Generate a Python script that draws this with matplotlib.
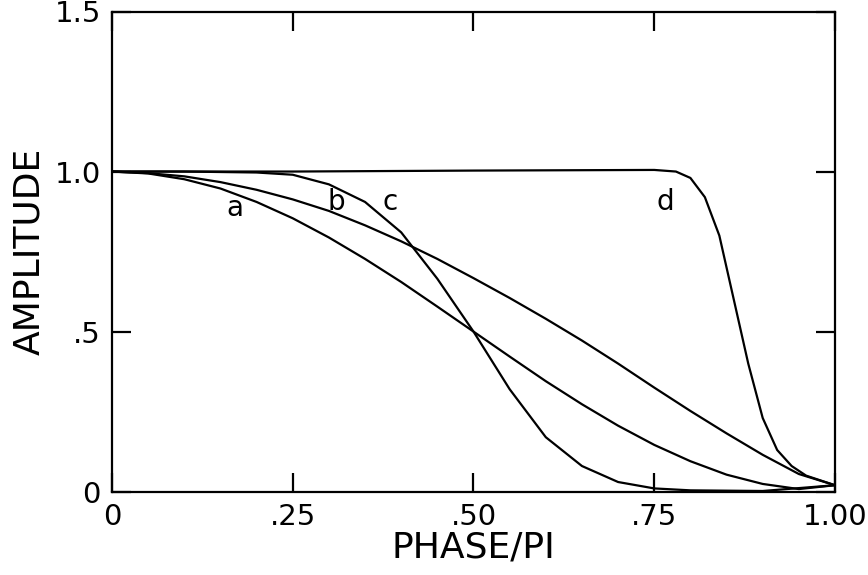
import matplotlib
matplotlib.use("Agg")
import matplotlib.pyplot as plt

xa = [0,.05,.1,.15,.2,.25,.3,.35,.4,.45,.5,.55,.6,.65,.7,.75,.8,.85,.9,.95,1]
a = [1,.994,.976,.947,.905,.854,.794,.727,.655,.578,.5,.422,.345,.273,.206,.146,.095,.053,.024,.008,.02]
b = [1,.995,.985,.967,.943,.913,.877,.832,.782,.727,.667,.605,.54,.472,.40,.325,.252,.182,.115,.055,.02]
xc = [0,.1,.2,.25,.3,.35,.4,.45,.5,.55,.6,.65,.7,.75,.8,.9,1]
c = [1,1,.997,.99,.96,.905,.81,.665,.5,.32,.17,.08,.03,.01,.004,.002,.02]
xd = [0,.25,.5,.75,.78,.8,.82,.84,.86,.88,.9,.92,.94,.96,.98,1]
d = [1,1.0,1.003,1.005,1.0,.98,.92,.8,.6,.4,.23,.13,.08,.05,.035,.02]
labels = [("a",.17,.885),("b",.31,.905),("c",.385,.905),("d",.765,.905)]

plt.rcParams['font.family'] = 'DejaVu Sans'
fig = plt.figure(figsize=(8.68,5.75), dpi=100)
ax = fig.add_axes([0.129, 0.145, 0.833, 0.835])
for x, y in [(xa,a),(xa,b),(xc,c),(xd,d)]:
    ax.plot(x, y, color='black', lw=1.6)
for t, x, y in labels:
    ax.text(x, y, t, fontsize=20, ha='center', va='center')
ax.set_xlim(0,1); ax.set_ylim(0,1.5)
ax.set_xticks([0,.25,.5,.75,1]); ax.set_xticklabels(['0','.25','.50','.75','1.00'])
ax.set_yticks([0,.5,1,1.5]); ax.set_yticklabels(['0','.5','1.0','1.5'])
ax.tick_params(direction='in', length=14, width=1.6, top=True, right=True, labelsize=21, pad=8)
for s in ax.spines.values(): s.set_linewidth(1.6)
ax.set_xlabel('PHASE/PI', fontsize=26, labelpad=0)
ax.set_ylabel('AMPLITUDE', fontsize=26, labelpad=6)
fig.savefig('out.png', dpi=100)
